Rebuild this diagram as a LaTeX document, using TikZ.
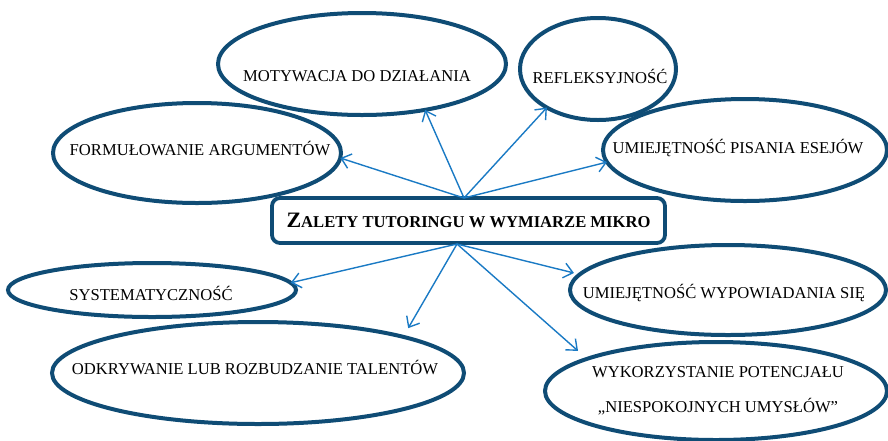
\documentclass[tikz,border=0pt]{standalone}
\usepackage{fontspec}
\setmainfont{Liberation Serif}
\usetikzlibrary{shapes.geometric,arrows.meta,calc}
\definecolor{navy}{RGB}{15,76,117}
\definecolor{arrowblue}{RGB}{26,122,196}
\tikzset{
  ell/.style={ellipse, draw=navy, line width=4pt, fill=white, inner sep=0pt, outer sep=0pt},
  lab/.style={font=\fontsize{16.6}{20}\selectfont, inner sep=0pt, text=black},
  conn/.style={draw=arrowblue, line width=1.4pt, -{Straight Barb[length=9pt,width=15pt,line width=1.4pt]}},
  titlebox/.style={draw=navy, line width=3.8pt, rounded corners=8pt, fill=white, minimum width=393pt, minimum height=45pt, inner sep=0pt}
}
\begin{document}
\begin{tikzpicture}[x=1pt,y=-1pt]
\useasboundingbox (0,0) rectangle (888,440);
% ellipses
\node[ell, minimum width=288pt, minimum height=102pt] (mot) at (362,64) {};
\node[ell, minimum width=156pt, minimum height=102pt] (ref) at (598,69) {};
\node[ell, minimum width=288pt, minimum height=100pt] (form) at (197,153) {};
\node[ell, minimum width=284pt, minimum height=102pt] (pis) at (745,150) {};
\node[ell, minimum width=288pt, minimum height=54pt] (sys) at (152,290) {};
\node[ell, minimum width=412pt, minimum height=102pt] (odk) at (258,373) {};
\node[ell, minimum width=316pt, minimum height=90pt] (wyp) at (728,290) {};
\node[ell, minimum width=342pt, minimum height=98pt] (wyk) at (716,391) {};
% labels
\node[lab] (motT) at (357,76) {MOTYWACJA DO DZIAŁANIA};
\node[lab] (refT) at (600,76) {REFLEKSYJNOŚĆ};
\node[lab] (formT) at (200,148) {FORMUŁOWANIE ARGUMENTÓW};
\node[lab] (pisT) at (738,148) {UMIEJĘTNOŚĆ PISANIA ESEJÓW};
\node[lab] (sysT) at (151,293) {SYSTEMATYCZNOŚĆ};
\node[lab] (odkT) at (255,367) {ODKRYWANIE LUB ROZBUDZANIE TALENTÓW};
\node[lab] (wypT) at (724,293) {UMIEJĘTNOŚĆ WYPOWIADANIA SIĘ};
\node[lab] (wykT1) at (718,372) {WYKORZYSTANIE POTENCJAŁU};
\node[lab] (wykT2) at (718,407) {„NIESPOKOJNYCH UMYSŁÓW”};
% title
\node[titlebox] (title) at (468.5,220.5) {\bfseries{\fontsize{22}{26}\selectfont Z}{\fontsize{16.6}{20}\selectfont ALETY TUTORINGU W WYMIARZE MIKRO}};
\coordinate (top) at (464,198);
\coordinate (bot) at (457,244);
% connectors
\draw[conn] (top) -- (mot.-36);
\draw[conn] (top) -- (ref.217);
\draw[conn] (top) -- (form.-2.4);
\draw[conn] (top) -- (pis.185.5);
\draw[conn] (bot) -- (sys.3);
\draw[conn, shorten >=10pt] (bot) -- (odk.14.8);
\draw[conn, shorten >=6pt] (bot) -- (wyp.174.9);
\draw[conn, shorten >=12pt] (bot) -- (wyk.166.2);
\end{tikzpicture}
\end{document}
